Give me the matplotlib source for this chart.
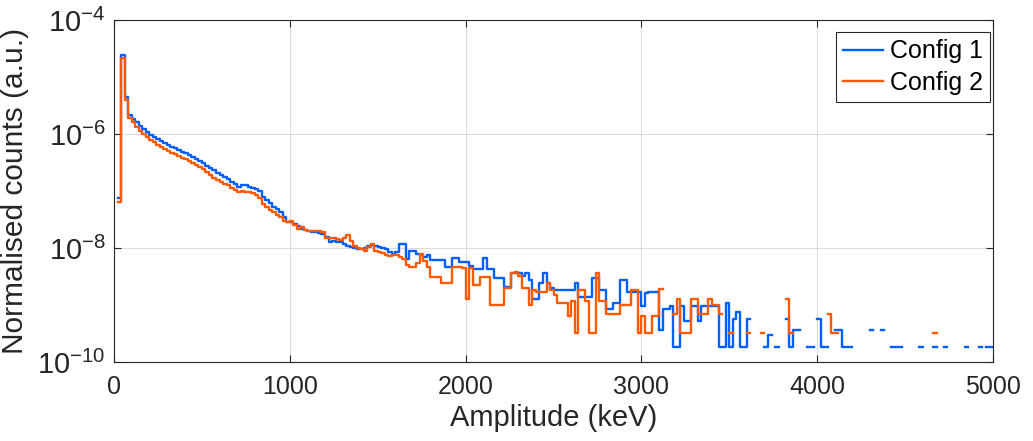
import numpy as np
import matplotlib
matplotlib.use("Agg")
import matplotlib.pyplot as plt

# ==========================================================
# DATA  (20 keV bins, 0 - 5000 keV, nan = empty bin)
# ==========================================================
nan = np.nan
BIN_EDGES = np.arange(0, 5001, 20)

config1 = [
    # 0 - 200
    nan, 7.5e-8, 2.45e-5, 4.5e-6, 2.2e-6, 1.85e-6, 1.6e-6, 1.4e-6, 1.22e-6, 1.08e-6,
    # 200 - 400
    9.6e-7, 8.8e-7, 8.1e-7, 7.5e-7, 7.0e-7, 6.5e-7, 6.0e-7, 5.6e-7, 5.2e-7, 4.9e-7,
    # 400 - 600
    4.6e-7, 4.3e-7, 4.0e-7, 3.7e-7, 3.4e-7, 3.1e-7, 2.8e-7, 2.5e-7, 2.3e-7, 2.1e-7,
    # 600 - 800
    1.9e-7, 1.75e-7, 1.6e-7, 1.45e-7, 1.35e-7, 1.2e-7, 1.3e-7, 1.25e-7, 1.2e-7, 1.15e-7,
    # 800 - 1000
    1.1e-7, 1.0e-7, 8.0e-8, 7.0e-8, 6.2e-8, 5.3e-8, 4.8e-8, 4.2e-8, 3.5e-8, 2.9e-8,
    # 1000 - 1200
    2.9e-8, 2.6e-8, 2.4e-8, 2.2e-8, 2.1e-8, 2.0e-8, 1.9e-8, 1.9e-8, 1.8e-8, 1.75e-8,
    # 1200 - 1400
    1.55e-8, 1.3e-8, 1.35e-8, 1.3e-8, 1.25e-8, 1.2e-8, 1.1e-8, 1.05e-8, 1.0e-8, 9.5e-9,
    # 1400 - 1600
    9.5e-9, 1.0e-8, 1.1e-8, 1.15e-8, 1.1e-8, 1.05e-8, 1.0e-8, 9.5e-9, 8.6e-9, 8.0e-9,
    # 1600 - 1800
    8.5e-9, 1.2e-8, 1.2e-8, 6.5e-9, 9.0e-9, 9.0e-9, 8.0e-9, 7.5e-9, 7.0e-9, 7.5e-9,
    # 1800 - 2000
    6.2e-9, 6.2e-9, 6.2e-9, 6.2e-9, 4.6e-9, 4.6e-9, 6.6e-9, 6.6e-9, 5.6e-9, 5.6e-9,
    # 2000 - 2200
    5.6e-9, 4.8e-9, 4.2e-9, 4.2e-9, 4.2e-9, 6.6e-9, 4.2e-9, 4.2e-9, 3.0e-9, 3.0e-9,
    # 2200 - 2400
    3.0e-9, 2.1e-9, 2.1e-9, 3.6e-9, 3.6e-9, 3.6e-9, 3.2e-9, 3.6e-9, 2.8e-9, 1.3e-9,
    # 2400 - 2600
    1.3e-9, 2.4e-9, 3.6e-9, 2.4e-9, 2.0e-9, 1.8e-9, 1.8e-9, 1.8e-9, 1.8e-9, 1.8e-9,
    # 2600 - 2800
    1.8e-9, 2.4e-9, 1.4e-9, 1.4e-9, 1.4e-9, 1.4e-9, 3.0e-9, 3.0e-9, 1.8e-9, 1.8e-9,
    # 2800 - 3000
    8.5e-10, 8.5e-10, 1.1e-9, 1.1e-9, 2.7e-9, 2.7e-9, 1.7e-9, 1.7e-9, 1.7e-9, 1.7e-9,
    # 3000 - 3200
    9.5e-10, 1.6e-9, 1.7e-9, 1.7e-9, 1.7e-9, 3.6e-10, 8.5e-10, 8.5e-10, 9.5e-10, 1.8e-10,
    # 3200 - 3400
    1.8e-10, 9.5e-10, 5.3e-10, 5.3e-10, 9.5e-10, 9.5e-10, 5.3e-10, 9.5e-10, 9.5e-10, 9.5e-10,
    # 3400 - 3600
    9.5e-10, 9.5e-10, 1.8e-10, 1.8e-10, 1.1e-9, 1.8e-10, 5.6e-10, 7.5e-10, 1.8e-10, 1.8e-10,
    # 3600 - 3800
    5.6e-10, nan, nan, nan, nan, 1.8e-10, 3.0e-10, nan, 1.8e-10, nan,
    # 3800 - 4000
    nan, 5.6e-10, 1.8e-10, 3.6e-10, 3.6e-10, nan, nan, 1.8e-10, 1.8e-10, nan,
    # 4000 - 4200
    5.6e-10, 1.8e-10, 1.8e-10, nan, nan, 3.6e-10, 3.6e-10, 1.8e-10, 1.8e-10, 1.8e-10,
    # 4200 - 4400
    nan, nan, nan, nan, nan, 3.6e-10, nan, nan, 3.6e-10, nan,
    # 4400 - 4600
    nan, 1.8e-10, 1.8e-10, 1.8e-10, nan, nan, nan, nan, nan, 1.8e-10,
    # 4600 - 4800
    nan, nan, nan, 1.8e-10, nan, nan, 1.8e-10, nan, nan, nan,
    # 4800 - 5000
    nan, nan, 1.8e-10, nan, nan, nan, 1.8e-10, nan, 1.8e-10, 1.8e-10,
]

config2 = [
    # 0 - 200
    nan, 6.5e-8, 2.2e-5, 4.0e-6, 1.9e-6, 1.6e-6, 1.35e-6, 1.15e-6, 1.0e-6, 8.8e-7,
    # 200 - 400
    7.8e-7, 7.1e-7, 6.5e-7, 6.0e-7, 5.5e-7, 5.1e-7, 4.7e-7, 4.4e-7, 4.1e-7, 3.8e-7,
    # 400 - 600
    3.6e-7, 3.3e-7, 3.1e-7, 2.85e-7, 2.6e-7, 2.4e-7, 2.15e-7, 1.9e-7, 1.7e-7, 1.55e-7,
    # 600 - 800
    1.45e-7, 1.35e-7, 1.25e-7, 1.15e-7, 1.05e-7, 9.8e-8, 1.0e-7, 9.8e-8, 9.5e-8, 9.2e-8,
    # 800 - 1000
    8.5e-8, 7.5e-8, 6.0e-8, 5.2e-8, 4.6e-8, 4.3e-8, 3.8e-8, 3.5e-8, 3.0e-8, 2.9e-8,
    # 1000 - 1200
    3.0e-8, 2.5e-8, 2.2e-8, 2.3e-8, 2.1e-8, 2.0e-8, 2.0e-8, 1.95e-8, 2.0e-8, 1.9e-8,
    # 1200 - 1400
    1.5e-8, 1.5e-8, 1.5e-8, 1.45e-8, 1.4e-8, 1.5e-8, 1.7e-8, 1.35e-8, 1.1e-8, 1.0e-8,
    # 1400 - 1600
    9.5e-9, 9.0e-9, 1.05e-8, 1.2e-8, 9.0e-9, 8.6e-9, 8.2e-9, 7.5e-9, 7.1e-9, 7.5e-9,
    # 1600 - 1800
    7.5e-9, 7.0e-9, 6.5e-9, 5.0e-9, 4.7e-9, 4.7e-9, 5.5e-9, 8.0e-9, 6.0e-9, 4.7e-9,
    # 1800 - 2000
    3.1e-9, 3.1e-9, 3.1e-9, 2.4e-9, 2.4e-9, 2.4e-9, 4.6e-9, 4.6e-9, 4.6e-9, 4.4e-9,
    # 2000 - 2200
    1.3e-9, 4.4e-9, 2.2e-9, 2.2e-9, 3.1e-9, 3.1e-9, 3.1e-9, 1.0e-9, 1.0e-9, 1.0e-9,
    # 2200 - 2400
    1.0e-9, 2.0e-9, 2.0e-9, 3.6e-9, 3.8e-9, 3.2e-9, 2.0e-9, 2.0e-9, 1.0e-9, 1.8e-9,
    # 2400 - 2600
    1.7e-9, 1.7e-9, 1.7e-9, 2.4e-9, 1.8e-9, 1.5e-9, 1.1e-9, 1.1e-9, 1.1e-9, 6.4e-10,
    # 2600 - 2800
    1.2e-9, 3.2e-10, 1.8e-9, 1.8e-9, 1.2e-9, 3.2e-10, 3.2e-10, 3.6e-9, 1.2e-9, 1.2e-9,
    # 2800 - 3000
    7.0e-10, 7.0e-10, 7.0e-10, 7.0e-10, 1.0e-9, 1.0e-9, 1.0e-9, 1.8e-9, 1.8e-9, 3.2e-10,
    # 3000 - 3200
    6.4e-10, 3.2e-10, 3.2e-10, 6.4e-10, 6.4e-10, 1.9e-9, nan, nan, nan, 7.0e-10,
    # 3200 - 3400
    1.3e-9, 3.2e-10, 3.2e-10, 3.2e-10, 1.3e-9, 1.3e-9, 7.0e-10, 7.0e-10, 7.0e-10, 1.3e-9,
    # 3400 - 3600
    1.0e-9, 1.0e-9, 7.0e-10, nan, nan, 3.2e-10, nan, nan, nan, nan,
    # 3600 - 3800
    3.2e-10, nan, nan, nan, 3.2e-10, nan, nan, nan, nan, nan,
    # 3800 - 4000
    nan, 1.3e-9, 3.2e-10, nan, nan, nan, nan, nan, nan, nan,
    # 4000 - 4200
    nan, nan, nan, 7.0e-10, 3.2e-10, 3.2e-10, nan, nan, nan, nan,
    # 4200 - 4400
    nan, nan, nan, nan, nan, nan, nan, nan, nan, nan,
    # 4400 - 4600
    nan, nan, nan, nan, nan, nan, nan, nan, nan, nan,
    # 4600 - 4800
    nan, nan, nan, 3.2e-10, nan, nan, nan, nan, nan, nan,
    # 4800 - 5000
    nan, nan, nan, nan, nan, nan, nan, nan, nan, nan,
]

labels = ["Config 1", "Config 2"]
colors = ["#0060ff", "#ff5a00"]

# ==========================================================
# PLOT
# ==========================================================
plt.rcParams["font.family"] = ["Liberation Sans", "DejaVu Sans"]
plt.rcParams["mathtext.fontset"] = "custom"
plt.rcParams["mathtext.rm"] = "Liberation Sans"
plt.rcParams["mathtext.it"] = "Liberation Sans:italic"
plt.rcParams["mathtext.bf"] = "Liberation Sans:bold"

fig = plt.figure(figsize=(10.33, 4.41), dpi=100)
ax = fig.add_axes([0.1104, 0.1791, 0.8509, 0.7755])

for vals, lab, col in zip([config1, config2], labels, colors):
    y = np.append(np.array(vals, dtype=float), np.nan)
    ax.step(BIN_EDGES, y, where="post", color=col, lw=1.7, label=lab)

ax.set_yscale("log")
ax.set_xlim(0, 5000)
ax.set_ylim(1e-10, 1e-4)
ax.set_yticks([1e-10, 1e-8, 1e-6, 1e-4])
ax.yaxis.set_minor_locator(matplotlib.ticker.NullLocator())
ax.set_xticks([0, 1000, 2000, 3000, 4000, 5000])

ax.grid(True, color="#dcdcdc", lw=0.8)
ax.set_axisbelow(True)
ax.tick_params(direction="in", top=True, right=True,
               colors="#262626", length=5, width=0.8)
ax.tick_params(axis="x", labelsize=18, pad=9)
ax.tick_params(axis="y", labelsize=21, pad=6)
for sp in ax.spines.values():
    sp.set_color("#262626")
    sp.set_linewidth(0.8)

ax.set_xlabel("Amplitude (keV)", fontsize=21, color="#262626", labelpad=4)
ax.set_ylabel("Normalised counts (a.u.)", fontsize=21.5, color="#262626", labelpad=6)

leg = ax.legend(loc="upper right", bbox_to_anchor=(0.9966, 0.965),
                borderaxespad=0, fontsize=18, handlelength=1.6,
                fancybox=False, framealpha=1,
                handletextpad=0.25, borderpad=0.3, labelspacing=0.3)
leg.get_frame().set_edgecolor("#262626")
leg.get_frame().set_linewidth(0.8)

fig.savefig("out.png", dpi=100)
